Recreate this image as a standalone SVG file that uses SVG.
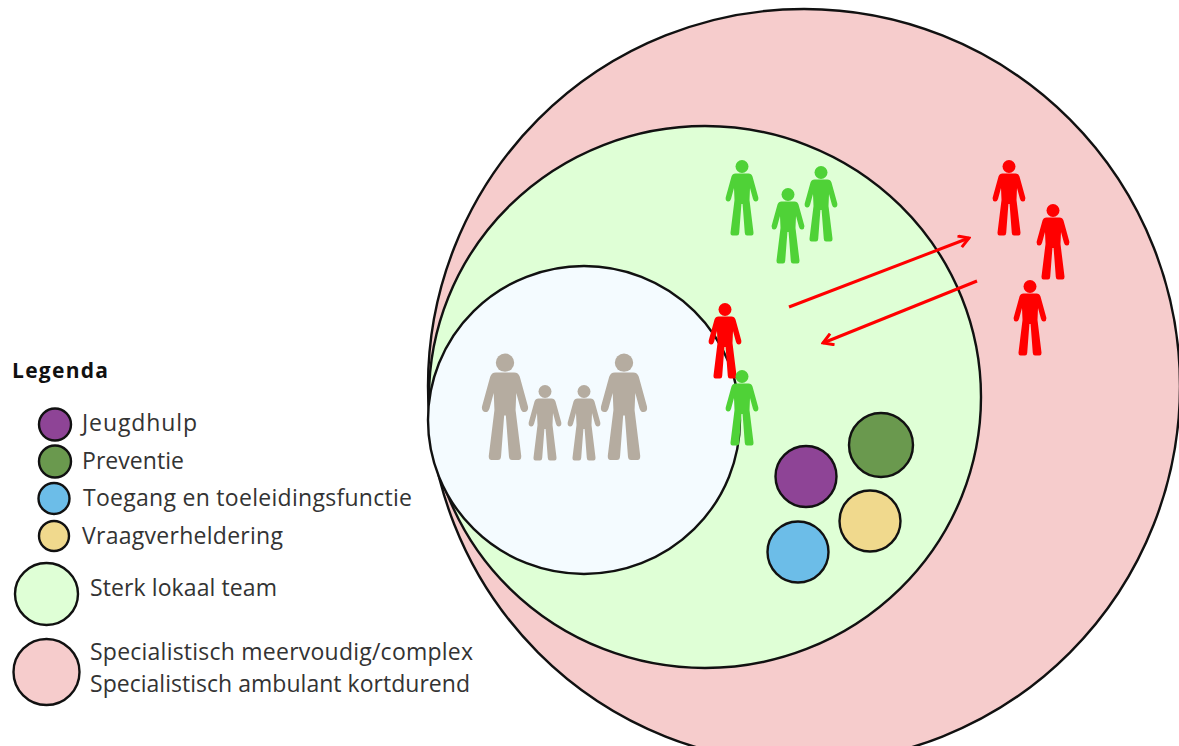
<svg xmlns="http://www.w3.org/2000/svg" width="1179" height="746" viewBox="0 0 1179 746">
<style>
.c{stroke:#111;stroke-width:2.4}
.l{font-family:"Open Sans","Lato",sans-serif;font-size:23px;fill:#333}
.b{font-family:"Open Sans","Lato",sans-serif;font-size:21px;font-weight:700;fill:#111}
.pink{fill:#f6cccc}.lg{fill:#dfffd6}.pa{fill:#f4fbff}
.pu{fill:#8e4496}.gr{fill:#6a994e}.bl{fill:#6cbde8}.ye{fill:#f0d98d}
.red{fill:#ff0000}.grn{fill:#4fd237}.gry{fill:#b5aca0}
.arrow{stroke:#ff0000;stroke-width:3;fill:none}
</style>
<defs>
<marker id="ah" viewBox="0 0 14 14" refX="12" refY="7" markerWidth="14" markerHeight="14" markerUnits="userSpaceOnUse" orient="auto">
<path d="M2,1 L12,7 L2,13" fill="none" stroke="#ff0000" stroke-width="3"/>
</marker>
<g id="person">
<circle cx="0" cy="6.500" r="6.500"/>
<path d="M-6.500,13.500 L6.500,13.500 Q9.500,13.500 10.500,16.500 L16.300,37.500 Q16.800,41 14.200,41.500 Q12,42 11,39 L8,28 L7.500,40 L11.500,72.500 Q11.700,75.500 9.500,75.500 L5,75.500 Q3,75.500 2.800,73 L0.600,44 L-0.600,44 L-2.800,73 Q-3,75.500 -5,75.500 L-9.500,75.500 Q-11.700,75.500 -11.500,72.500 L-7.500,40 L-8,28 L-11,39 Q-12,42 -14.200,41.500 Q-16.800,41 -16.300,37.500 L-10.500,16.500 Q-9.500,13.500 -6.500,13.500 Z"/>
</g>
</defs>
<rect width="1179" height="746" fill="#fff"/>
<g id="circle-specialist"><ellipse class="c pink" cx="804" cy="386" rx="376" ry="377"/></g>
<g id="circle-team"><ellipse class="c lg" cx="705" cy="397" rx="276" ry="271"/></g>
<g id="circle-family"><ellipse class="c pa" cx="584" cy="420" rx="156" ry="154"/></g>
<g id="service-jeugdhulp"><circle class="c pu" cx="806" cy="476.500" r="30.500"/></g>
<g id="service-preventie"><circle class="c gr" cx="881" cy="445" r="32"/></g>
<g id="service-vraag"><circle class="c ye" cx="870" cy="521" r="30.500"/></g>
<g id="service-toegang"><circle class="c bl" cx="798" cy="552" r="30.500"/></g>
<g id="people-green">
<use href="#person" class="grn" x="742" y="160"/>
<use href="#person" class="grn" x="788" y="188"/>
<use href="#person" class="grn" x="821" y="166"/>
</g>
<g id="people-red">
<use href="#person" class="red" x="1009" y="160"/>
<use href="#person" class="red" x="1053" y="204"/>
<use href="#person" class="red" x="1030" y="280"/>
</g>
<g id="person-red-mid"><use href="#person" class="red" x="725" y="303"/></g>
<g id="person-green-mid"><use href="#person" class="grn" x="742" y="370"/></g>
<g id="family">
<use href="#person" class="gry" transform="translate(505,353.500) scale(1.41)"/>
<use href="#person" class="gry" transform="translate(545,385)"/>
<use href="#person" class="gry" transform="translate(584,385)"/>
<use href="#person" class="gry" transform="translate(624,353.500) scale(1.41)"/>
</g>
<g id="connectors">
<line class="arrow" x1="789" y1="307" x2="969" y2="238" marker-end="url(#ah)"/>
<line class="arrow" x1="977" y1="281" x2="823" y2="343" marker-end="url(#ah)"/>
</g>
<g id="legend">
<text class="b" x="12" y="378" textLength="96">Legenda</text>
<g id="legend-jeugdhulp"><circle class="c pu" cx="55" cy="424.500" r="16"/><text class="l" x="82" y="431" textLength="115">Jeugdhulp</text></g>
<g id="legend-preventie"><circle class="c gr" cx="55" cy="461.500" r="16"/><text class="l" x="82" y="469" textLength="102">Preventie</text></g>
<g id="legend-toegang"><circle class="c bl" cx="54" cy="498.500" r="15.500"/><text class="l" x="83" y="506" textLength="329">Toegang en toeleidingsfunctie</text></g>
<g id="legend-vraag"><circle class="c ye" cx="54" cy="536" r="15"/><text class="l" x="82" y="544" textLength="201">Vraagverheldering</text></g>
<g id="legend-team"><ellipse class="c lg" cx="46.500" cy="594" rx="31.500" ry="31"/><text class="l" x="90" y="596" textLength="187">Sterk lokaal team</text></g>
<g id="legend-specialist"><circle class="c pink" cx="46.500" cy="672" r="33"/><text class="l" x="90" y="660" textLength="383">Specialistisch meervoudig/complex</text><text class="l" x="90" y="692" textLength="380">Specialistisch ambulant kortdurend</text></g>
</g>
</svg>
